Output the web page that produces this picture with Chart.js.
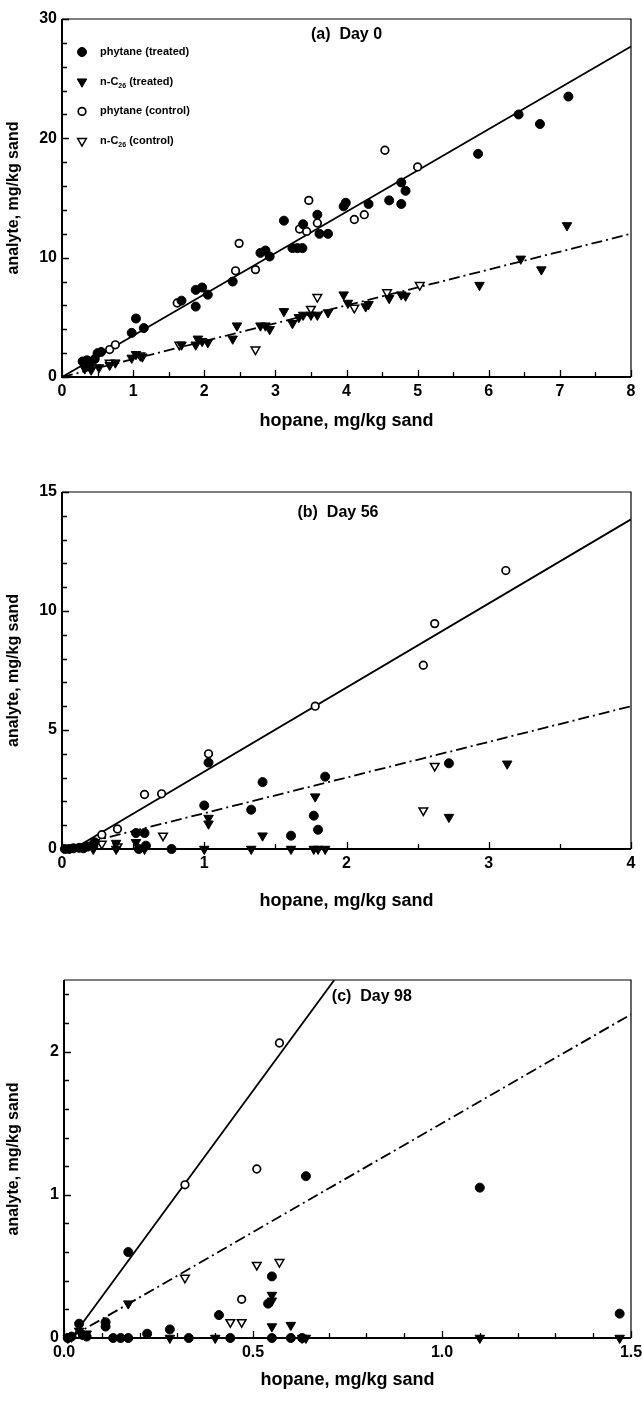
<!DOCTYPE html>
<html>
<head>
<meta charset="utf-8">
<script src="https://cdn.jsdelivr.net/npm/chart.js@4.4.1/dist/chart.umd.min.js"></script>
<style>
  body { margin: 0; background: #fff; }
  canvas { position: absolute; left: 0; }
</style>
</head>
<body>
<canvas id="chartA" width="642" height="440" style="top:0px"></canvas>
<canvas id="chartB" width="642" height="470" style="top:450px"></canvas>
<canvas id="chartC" width="642" height="461" style="top:940px"></canvas>
<script>
// ---- data ----
const panelTitles = ['(a)  Day 0', '(b)  Day 56', '(c)  Day 98'];
const seriesNames = ['phytane (treated)', 'n-C26 (treated)', 'phytane (control)', 'n-C26 (control)'];
const xTitle = 'hopane, mg/kg sand';
const yTitle = 'analyte, mg/kg sand';

// Day 0
const dayA_phytaneTreated = [[0.29,1.3],[0.35,1.4],[0.39,1.0],[0.46,1.5],[0.5,2.0],[0.55,2.1],[0.98,3.7],[1.04,4.9],[1.15,4.1],
  [1.68,6.4],[1.88,5.9],[1.88,7.3],[1.97,7.5],[2.05,6.9],[2.4,8.0],[2.79,10.4],[2.86,10.6],[2.92,10.1],[3.12,13.1],
  [3.24,10.8],[3.31,10.8],[3.38,10.8],[3.39,12.8],[3.59,13.6],[3.62,12.0],[3.74,12.0],[3.96,14.3],[3.99,14.6],
  [4.31,14.5],[4.6,14.8],[4.77,14.5],[4.77,16.3],[4.83,15.6],[5.85,18.7],[6.42,22.0],[6.72,21.2],[7.12,23.5]];
const dayA_nC26Treated = [[0.32,0.7],[0.41,0.6],[0.52,0.8],[0.67,1.0],[0.75,1.2],[0.98,1.6],[1.04,1.9],[1.13,1.7],
  [1.68,2.7],[1.88,2.7],[1.91,3.2],[1.97,3.0],[2.05,2.9],[2.4,3.2],[2.46,4.3],[2.79,4.3],[2.86,4.3],[2.92,4.0],
  [3.12,5.5],[3.24,4.5],[3.33,5.0],[3.39,5.2],[3.5,5.2],[3.59,5.2],[3.74,5.4],[3.96,6.9],[4.02,6.2],[4.27,5.9],
  [4.31,6.1],[4.6,6.6],[4.77,6.9],[4.83,6.8],[5.87,7.7],[6.45,9.9],[6.74,9.0],[7.1,12.7]];
const dayA_phytaneControl = [[0.67,2.3],[0.75,2.7],[1.62,6.2],[2.44,8.9],[2.49,11.2],[2.72,9.0],[3.34,12.4],[3.44,12.2],
  [3.47,14.8],[3.59,12.9],[4.11,13.2],[4.25,13.6],[4.54,19.0],[5.0,17.6]];
const dayA_nC26Control = [[0.67,1.2],[1.1,1.8],[1.65,2.7],[2.72,2.3],[3.5,5.7],[3.59,6.7],[4.11,5.8],[4.57,7.1],[5.03,7.7]];
const dayA_solidFit = [[0,0],[8,27.7]];
const dayA_dashFit = [[0,0],[8,12.0]];
const dayA_xTicks = [0,1,2,3,4,5,6,7,8];
const dayA_yTicks = [0,10,20,30];

// Day 56
const dayB_phytaneTreated = [[0.02,0],[0.05,0],[0.08,0.03],[0.12,0.05],[0.15,0.03],[0.18,0.1],[0.23,0.28],[0.52,0.67],
  [0.54,0],[0.58,0.67],[0.59,0.14],[0.77,0],[1.0,1.83],[1.03,3.63],[1.33,1.65],[1.41,2.81],[1.61,0.56],[1.77,1.4],
  [1.8,0.81],[1.85,3.04],[2.72,3.6]];
const dayB_nC26Treated = [[0.22,0],[0.38,0],[0.38,0.25],[0.52,0.28],[0.58,0],[1.0,0],[1.03,1.06],[1.03,1.3],[1.33,0],
  [1.41,0.56],[1.61,0],[1.77,0],[1.78,2.2],[1.8,0],[1.85,0],[2.72,1.34],[3.13,3.58]];
const dayB_phytaneControl = [[0.28,0.6],[0.39,0.84],[0.58,2.29],[0.7,2.32],[1.03,4.0],[1.78,6.0],[2.54,7.72],[2.62,9.47],[3.12,11.7]];
const dayB_nC26Control = [[0.28,0.22],[0.39,0.1],[0.71,0.56],[2.54,1.62],[2.62,3.49]];
const dayB_solidFit = [[0.08,0],[4,13.85]];
const dayB_dashFit = [[0.05,0.08],[4,6.0]];
const dayB_xTicks = [0,1,2,3,4];
const dayB_yTicks = [0,5,10,15];

// Day 98
const dayC_phytaneTreated = [[0.01,0],[0.02,0.01],[0.04,0.1],[0.05,0.02],[0.06,0.01],[0.11,0.08],[0.11,0.11],[0.13,0],
  [0.15,0],[0.17,0],[0.17,0.6],[0.22,0.03],[0.28,0.06],[0.33,0],[0.41,0.16],[0.44,0],[0.54,0.24],[0.55,0.43],
  [0.55,0],[0.6,0],[0.63,0],[0.64,1.13],[1.1,1.05],[1.47,0.17]];
const dayC_nC26Treated = [[0.01,0],[0.04,0.05],[0.06,0.03],[0.17,0.24],[0.28,0],[0.4,0],[0.55,0.08],[0.55,0.26],
  [0.55,0.3],[0.6,0.09],[0.63,0],[0.64,0],[1.1,0],[1.47,0]];
const dayC_phytaneControl = [[0.01,0],[0.32,1.07],[0.47,0.27],[0.51,1.18],[0.57,2.06]];
const dayC_nC26Control = [[0.02,0.01],[0.32,0.42],[0.44,0.11],[0.47,0.11],[0.51,0.51],[0.57,0.53]];
const dayC_solidFit = [[0.02,0],[0.715,2.5]];
const dayC_dashFit = [[0.02,0.01],[1.5,2.26]];
const dayC_xTicks = [0,0.5,1.0,1.5];
const dayC_yTicks = [0,1,2];

Chart.defaults.font.family = '"Liberation Sans", Arial, sans-serif';
Chart.defaults.font.weight = 'bold';
Chart.defaults.color = '#000';

function pts(arr) {
  return arr.map(p => ({x: p[0], y: p[1]}));
}

// marker styles for the four series
const markers = [
  {pointStyle: 'circle', pointRadius: 4.5, pointBackgroundColor: '#000', pointBorderColor: '#000', pointBorderWidth: 1, pointRotation: 0},
  {pointStyle: 'triangle', pointRadius: 5.5, pointBackgroundColor: '#000', pointBorderColor: '#000', pointBorderWidth: 1, pointRotation: 180},
  {pointStyle: 'circle', pointRadius: 3.8, pointBackgroundColor: '#fff', pointBorderColor: '#000', pointBorderWidth: 1.7, pointRotation: 0},
  {pointStyle: 'triangle', pointRadius: 5, pointBackgroundColor: '#fff', pointBorderColor: '#000', pointBorderWidth: 1.5, pointRotation: 180}
];

function drawMarker(ctx, m, x, y) {
  ctx.save();
  ctx.fillStyle = m.pointBackgroundColor;
  ctx.strokeStyle = m.pointBorderColor;
  ctx.lineWidth = m.pointBorderWidth;
  ctx.beginPath();
  if (m.pointStyle === 'circle') {
    ctx.arc(x, y, m.pointRadius, 0, Math.PI * 2);
  } else {
    const r = m.pointRadius;
    ctx.moveTo(x, y + r);
    ctx.lineTo(x - r * 0.866, y - r * 0.5);
    ctx.lineTo(x + r * 0.866, y - r * 0.5);
    ctx.closePath();
  }
  ctx.fill();
  ctx.stroke();
  ctx.restore();
}

// frame + inward tick marks
const frameTicks = {
  id: 'frameTicks',
  beforeDatasetsDraw(chart, args, opts) {
    const {ctx, chartArea: a, scales: {x, y}} = chart;
    ctx.save();
    ctx.strokeStyle = '#000';
    ctx.lineWidth = 1.3;
    ctx.beginPath();
    let n = Math.floor((x.max - x.min) / opts.xMinor + 1e-6);
    for (let i = 0; i <= n; i++) {
      const v = x.min + i * opts.xMinor;
      const major = Math.abs(v / opts.xMajor - Math.round(v / opts.xMajor)) < 1e-6;
      const px = Math.round(x.getPixelForValue(v)) + 0.5;
      ctx.moveTo(px, a.bottom);
      ctx.lineTo(px, a.bottom - (major ? 7 : 5));
    }
    n = Math.floor((y.max - y.min) / opts.yMinor + 1e-6);
    for (let i = 0; i <= n; i++) {
      const v = y.min + i * opts.yMinor;
      const major = Math.abs(v / opts.yMajor - Math.round(v / opts.yMajor)) < 1e-6;
      const py = Math.round(y.getPixelForValue(v)) + 0.5;
      ctx.moveTo(a.left, py);
      ctx.lineTo(a.left + (major ? 7 : 5), py);
    }
    ctx.stroke();
    // top and right edges are thinner
    ctx.lineWidth = 1.2;
    ctx.beginPath();
    ctx.moveTo(a.left, a.top);
    ctx.lineTo(a.right, a.top);
    ctx.lineTo(a.right, a.bottom);
    ctx.stroke();
    ctx.lineWidth = 2;
    ctx.beginPath();
    ctx.moveTo(a.left, a.top);
    ctx.lineTo(a.left, a.bottom);
    ctx.lineTo(a.right, a.bottom);
    ctx.stroke();
    ctx.restore();
  }
};

const panelTitle = {
  id: 'panelTitle',
  afterDraw(chart, args, opts) {
    const {ctx, chartArea: a} = chart;
    ctx.save();
    ctx.font = 'bold 16px "Liberation Sans", Arial, sans-serif';
    ctx.fillStyle = '#000';
    ctx.textAlign = 'center';
    ctx.textBaseline = 'middle';
    ctx.fillText(opts.text, a.left + opts.cx * (a.right - a.left), a.top + opts.dy);
    ctx.restore();
  }
};

const panelLegend = {
  id: 'panelLegend',
  afterDraw(chart, args, opts) {
    if (!opts.show) return;
    const {ctx, chartArea: a} = chart;
    ctx.save();
    ctx.fillStyle = '#000';
    ctx.textBaseline = 'middle';
    seriesNames.forEach((name, i) => {
      const yy = a.top + 33 + i * 29.7;
      drawMarker(ctx, markers[i], a.left + 20, yy);
      let xx = a.left + 38;
      const m = name.match(/^n-C(\d+)(.*)$/);
      ctx.font = 'bold 11px "Liberation Sans", Arial, sans-serif';
      if (m) {
        ctx.fillText('n-C', xx, yy);
        xx += ctx.measureText('n-C').width;
        ctx.font = 'bold 7px "Liberation Sans", Arial, sans-serif';
        ctx.fillText(m[1], xx, yy + 4);
        xx += ctx.measureText(m[1]).width;
        ctx.font = 'bold 11px "Liberation Sans", Arial, sans-serif';
        ctx.fillText(m[2], xx, yy);
      } else {
        ctx.fillText(name, xx, yy);
      }
    });
    ctx.restore();
  }
};

function makePanel(id, p) {
  const series = [p.phytaneTreated, p.nC26Treated, p.phytaneControl, p.nC26Control];
  const datasets = series.map((s, i) => Object.assign({
    label: seriesNames[i],
    data: pts(s),
    showLine: false,
    clip: false,
    order: 1
  }, markers[i]));
  datasets.push({
    label: 'fit solid', data: pts(p.solidFit), showLine: true, borderColor: '#000',
    borderWidth: 1.8, pointRadius: 0, order: 5
  });
  datasets.push({
    label: 'fit dash-dot', data: pts(p.dashFit), showLine: true, borderColor: '#000',
    borderWidth: 1.8, borderDash: [11, 4, 2, 4], pointRadius: 0, order: 5
  });
  const tickFont = {size: 16, weight: 'bold'};
  return new Chart(document.getElementById(id), {
    type: 'scatter',
    data: {datasets: datasets},
    options: {
      responsive: false,
      animation: false,
      events: [],
      layout: {padding: {top: p.padTop, right: 11, left: 0, bottom: 0}},
      scales: {
        x: {
          type: 'linear', min: p.xTicks[0], max: p.xTicks[p.xTicks.length - 1],
          grid: {display: false, drawTicks: false}, border: {display: false},
          afterBuildTicks: s => { s.ticks = p.xTicks.map(v => ({value: v})); },
          afterFit: s => { s.height = p.xAxisH; s.paddingLeft = 0; s.paddingRight = 0; },
          ticks: {font: tickFont, color: '#000', padding: 5, maxRotation: 0,
            callback: v => p.xDecimals ? Number(v).toFixed(p.xDecimals) : String(v)},
          title: {display: true, text: xTitle, font: {size: 18, weight: 'bold'}, color: '#000',
            padding: {top: 0, bottom: p.titlePad}}
        },
        y: {
          type: 'linear', min: p.yTicks[0], max: p.yMax,
          grid: {display: false, drawTicks: false}, border: {display: false},
          afterBuildTicks: s => { s.ticks = p.yTicks.map(v => ({value: v})); },
          afterFit: s => { s.width = p.yAxisW; s.paddingTop = 0; s.paddingBottom = 0; },
          ticks: {font: tickFont, color: '#000', padding: 5},
          title: {display: true, text: yTitle, font: {size: 16, weight: 'bold'}, color: '#000',
            padding: {top: 4, bottom: 0}}
        }
      },
      plugins: {
        legend: {display: false},
        tooltip: {enabled: false},
        frameTicks: {xMinor: p.xMinor, xMajor: p.xMajor, yMinor: p.yMinor, yMajor: p.yMajor},
        panelTitle: {text: p.title, cx: p.titleCx, dy: p.titleDy},
        panelLegend: {show: p.legend}
      }
    },
    plugins: [frameTicks, panelTitle, panelLegend]
  });
}

makePanel('chartA', {
  phytaneTreated: dayA_phytaneTreated, nC26Treated: dayA_nC26Treated,
  phytaneControl: dayA_phytaneControl, nC26Control: dayA_nC26Control,
  solidFit: dayA_solidFit, dashFit: dayA_dashFit,
  xTicks: dayA_xTicks, yTicks: dayA_yTicks, yMax: 30,
  xMinor: 0.5, xMajor: 1, yMinor: 2, yMajor: 10,
  padTop: 19, xAxisH: 63, yAxisW: 62, titlePad: 8,
  title: panelTitles[0], titleCx: 0.5, titleDy: 16, legend: true
});

makePanel('chartB', {
  phytaneTreated: dayB_phytaneTreated, nC26Treated: dayB_nC26Treated,
  phytaneControl: dayB_phytaneControl, nC26Control: dayB_nC26Control,
  solidFit: dayB_solidFit, dashFit: dayB_dashFit,
  xTicks: dayB_xTicks, yTicks: dayB_yTicks, yMax: 15,
  xMinor: 0.5, xMajor: 1, yMinor: 1, yMajor: 5,
  padTop: 42, xAxisH: 71, yAxisW: 62, titlePad: 8,
  title: panelTitles[1], titleCx: 0.485, titleDy: 21, legend: false
});

makePanel('chartC', {
  phytaneTreated: dayC_phytaneTreated, nC26Treated: dayC_nC26Treated,
  phytaneControl: dayC_phytaneControl, nC26Control: dayC_nC26Control,
  solidFit: dayC_solidFit, dashFit: dayC_dashFit,
  xTicks: dayC_xTicks, yTicks: dayC_yTicks, yMax: 2.5, xDecimals: 1,
  xMinor: 0.1, xMajor: 0.5, yMinor: 0.2, yMajor: 1,
  padTop: 40, xAxisH: 63, yAxisW: 64, titlePad: 10,
  title: panelTitles[2], titleCx: 0.543, titleDy: 17, legend: false
});
</script>
</body>
</html>
